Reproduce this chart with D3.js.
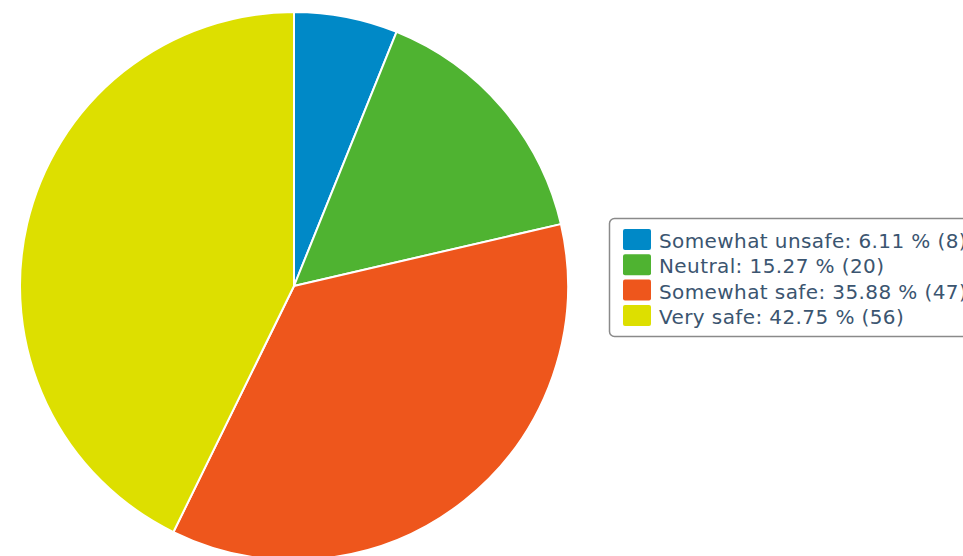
<!DOCTYPE html>
<html>
<head>
<meta charset="utf-8">
<script src="https://cdn.jsdelivr.net/npm/d3@7"></script>
<style>
  body { margin: 0; background: #fff; overflow: hidden; }
  .legend { font-family: "DejaVu Sans", Verdana, sans-serif; font-size: 20px; letter-spacing: 0.4px; fill: #3b5570; }
</style>
</head>
<body>
<script>
var labels = ["Somewhat unsafe", "Neutral", "Somewhat safe", "Very safe"];
var counts = [8, 20, 47, 56];
var percents = ["6.11", "15.27", "35.88", "42.75"];
var colors = ["#0089c7", "#4fb331", "#ee561c", "#dddf00"];

var w = 963, h = 556;
var cx = 294, cy = 286, r = 274;

var svg = d3.select("body").append("svg")
	.attr("width", w)
	.attr("height", h);

var pie = d3.pie().sort(null).value(d => d);
var arc = d3.arc().innerRadius(0).outerRadius(r);

var color = d3.scaleOrdinal().domain(labels).range(colors);

//slices
svg.append("g")
	.attr("transform", "translate(" + cx + "," + cy + ")")
	.selectAll("path")
	.data(pie(counts))
	.enter()
	.append("path")
	.attr("d", arc)
	.attr("fill", (d, i) => color(labels[i]))
	.attr("stroke", "#fff")
	.attr("stroke-width", 2)
	.attr("stroke-linejoin", "round");

//legend
var lx = 609, ly = 218, rowH = 25.3;
svg.append("rect")
	.attr("x", lx + 0.5)
	.attr("y", ly + 0.5)
	.attr("width", 400)
	.attr("height", 118)
	.attr("rx", 5)
	.attr("fill", "#fff")
	.attr("stroke", "#8a8a8a")
	.attr("stroke-width", 1.5);

var items = svg.selectAll("g.item")
	.data(labels)
	.enter()
	.append("g")
	.attr("class", "item")
	.attr("transform", (d, i) => "translate(" + (lx + 14) + "," + (ly + 11 + i * rowH) + ")");

items.append("rect")
	.attr("width", 28)
	.attr("height", 21)
	.attr("rx", 2)
	.attr("fill", d => color(d));

items.append("text")
	.attr("class", "legend")
	.attr("x", 36)
	.attr("y", 19)
	.text((d, i) => d + ": " + percents[i] + " % (" + counts[i] + ")");
</script>
</body>
</html>
